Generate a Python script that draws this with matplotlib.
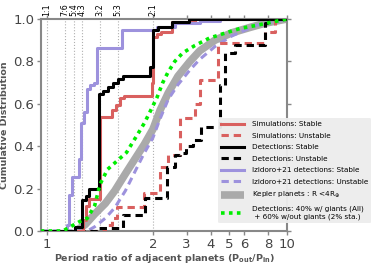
import numpy as np
import matplotlib
matplotlib.use('Agg')
import matplotlib.pyplot as plt

# ── resonances marked on top ─────────────────────────────────────────────
res_pos = [1, 7/6, 5/4, 4/3, 3/2, 5/3, 2]
res_lab = ['1:1', '7:6', '5:4', '4:3', '3:2', '5:3', '2:1']

# ── cumulative distributions ─────────────────────────────────────────────
sim_st_x = [0.94, 1.34, 1.37, 1.40, 1.50, 1.61, 1.65, 1.69, 1.73, 1.99, 2.0, 2.10, 2.20, 2.50, 3.30, 10]
sim_st_y = [0.0, 0.05, 0.12, 0.15, 0.54, 0.57, 0.595, 0.627, 0.637, 0.70, 0.915, 0.93, 0.94, 0.985, 1.0, 1.0]

sim_un_x = [0.94, 1.55, 1.61, 1.66, 1.915, 2.18, 2.40, 2.77, 3.31, 3.52, 4.36, 7.66, 8.63, 10]
sim_un_y = [0.0, 0.03, 0.06, 0.115, 0.18, 0.30, 0.36, 0.533, 0.60, 0.71, 0.887, 0.94, 1.0, 1.0]

det_st_x = [0.94, 1.264, 1.33, 1.368, 1.40, 1.49, 1.528, 1.575, 1.623, 1.67, 1.717, 1.97, 2.0, 2.124, 2.51, 3.1, 10]
det_st_y = [0.0, 0.02, 0.146, 0.165, 0.20, 0.645, 0.66, 0.68, 0.70, 0.717, 0.73, 0.774, 0.948, 0.962, 0.985, 1.0, 1.0]

det_un_x = [0.94, 1.49, 1.72, 1.925, 2.36, 2.62, 2.77, 2.97, 3.23, 3.56, 4.50, 4.74, 5.35, 7.66, 8.2, 10]
det_un_y = [0.0, 0.015, 0.075, 0.155, 0.30, 0.36, 0.37, 0.40, 0.43, 0.49, 0.69, 0.84, 0.877, 0.98, 1.0, 1.0]

izi_st_x = [0.94, 1.19, 1.205, 1.236, 1.30, 1.32, 1.345, 1.375, 1.41, 1.44, 1.47, 1.71, 2.10, 2.60, 3.50, 4.50, 10]
izi_st_y = [0.0, 0.03, 0.17, 0.255, 0.34, 0.51, 0.56, 0.67, 0.69, 0.70, 0.865, 0.95, 0.96, 0.98, 0.99, 1.0, 1.0]

izi_un_x = [0.94, 1.38, 1.45, 1.55, 1.64, 1.74, 1.83, 1.91, 2.0, 2.18, 2.40, 2.70, 3.12, 3.51, 4.21, 5.16, 6.90, 8.80, 10]
izi_un_y = [0.0, 0.0, 0.02, 0.06, 0.11, 0.19, 0.28, 0.36, 0.44, 0.53, 0.62, 0.69, 0.76, 0.81, 0.87, 0.92, 0.97, 0.99, 1.0]

kep_x = [1.27, 1.36, 1.45, 1.55, 1.64, 1.74, 1.83, 1.92, 2.0, 2.18, 2.40, 2.70, 3.12, 3.51, 4.21, 5.16, 6.40, 7.67, 10]
kep_y = [0.0, 0.03, 0.08, 0.13, 0.19, 0.27, 0.34, 0.41, 0.48, 0.57, 0.65, 0.73, 0.80, 0.85, 0.90, 0.935, 0.96, 0.98, 1.0]

mix_x = [0.94, 1.15, 1.22, 1.31, 1.38, 1.45, 1.50, 1.57, 1.66, 1.75, 1.86, 1.92, 1.97, 2.10, 2.25, 2.40, 2.60, 2.86, 3.31, 3.94, 4.62, 5.68, 6.93, 10]
mix_y = [0.0, 0.0, 0.02, 0.045, 0.06, 0.12, 0.22, 0.29, 0.33, 0.37, 0.46, 0.51, 0.56, 0.63, 0.70, 0.75, 0.80, 0.84, 0.875, 0.91, 0.93, 0.955, 0.97, 1.0]

# ── axis: linear between 1 and 2, logarithmic above 2 ────────────────────
K = 192 / 106


def fwd(x):
    x = np.asarray(x, dtype=float)
    with np.errstate(divide='ignore', invalid='ignore'):
        return np.where(x <= 2, x - 1, 1 + K * np.log10(np.maximum(x, 1e-12) / 2))


def inv(y):
    y = np.asarray(y, dtype=float)
    with np.errstate(over='ignore'):
        return np.where(y <= 1, y + 1, 2 * 10 ** ((y - 1) / K))


RED = '#d9605f'
PURP = '#9d92dd'
EDGE = '#888888'
TXT = '#444444'

fig = plt.figure(figsize=(3.78, 2.69), dpi=100)
ax = fig.add_axes([0.1085, 0.1413, 0.6508, 0.7881])
ax.set_xscale('function', functions=(fwd, inv))

for r, lab in zip(res_pos, res_lab):
    ax.axvline(r, color='#b0b0b0', ls=':', lw=0.8, zorder=0)
    ax.text(r, 1.012, lab, rotation=90, ha='center', va='bottom', fontsize=5.8,
            transform=ax.get_xaxis_transform())

ax.step(sim_st_x, sim_st_y, where='post', color=RED, lw=2.2, zorder=4,
        label='Simulations: Stable')
ax.step(sim_un_x, sim_un_y, where='post', color=RED, lw=2.2, ls=(0, (2.4, 1.6)), zorder=3,
        label='Simulations: Unstable')
ax.step(det_st_x, det_st_y, where='post', color='black', lw=2.2, zorder=5,
        label='Detections: Stable')
ax.step(det_un_x, det_un_y, where='post', color='black', lw=2.2, ls=(0, (2.4, 1.6)), zorder=3,
        label='Detections: Unstable')
ax.step(izi_st_x, izi_st_y, where='post', color=PURP, lw=2.2, zorder=4,
        label='Izidoro+21 detections: Stable')
ax.plot(izi_un_x, izi_un_y, color=PURP, lw=2.2, ls=(0, (2.4, 1.6)), zorder=2,
        label='Izidoro+21 detections: Unstable')
ax.plot(kep_x, kep_y, color='#aaaaaa', lw=5.5, zorder=1, solid_capstyle='butt',
        label=r'Kepler planets : R <4R$_{\oplus}$')
ax.plot(mix_x, mix_y, color='#00ee00', lw=2.6, ls=(0, (1, 1.2)), zorder=6,
        label='Detections: 40% w/ giants (All)\n + 60% w/out giants (2% sta.)')

ax.set_xlim(0.943, 10)
ax.set_ylim(0, 1)
xt = [1, 2, 3, 4, 5, 6, 8, 10]
ax.set_xticks(xt)
ax.set_xticklabels([str(v) for v in xt])
ax.xaxis.set_minor_locator(matplotlib.ticker.NullLocator())
ax.set_yticks([0, 0.2, 0.4, 0.6, 0.8, 1.0])
ax.set_yticklabels(['0.0', '0.2', '0.4', '0.6', '0.8', '1.0'])
ax.tick_params(direction='out', length=3, width=1, color=EDGE, labelcolor=TXT,
               labelsize=9.5, top=True, right=True, pad=2)
for s in ax.spines.values():
    s.set_color(EDGE)
    s.set_linewidth(1.5)

ax.set_xlabel(r'Period ratio of adjacent planets (P$_\mathbf{out}$/P$_\mathbf{in}$)',
              fontsize=6.8, fontweight='bold', color='#555555', labelpad=1)
ax.set_ylabel('Cumulative Distribution', fontsize=6.8, fontweight='bold',
              color='#555555', labelpad=3)

ax.legend(loc='upper left', bbox_to_anchor=(0.577, 0.561), bbox_transform=fig.transFigure,
          fontsize=5.2, frameon=True, facecolor='#ededed', edgecolor='none', framealpha=0.95,
          handlelength=3.2, labelspacing=0.75, borderaxespad=0, borderpad=0.45,
          handletextpad=1.0)

fig.savefig('out.png', dpi=100)
